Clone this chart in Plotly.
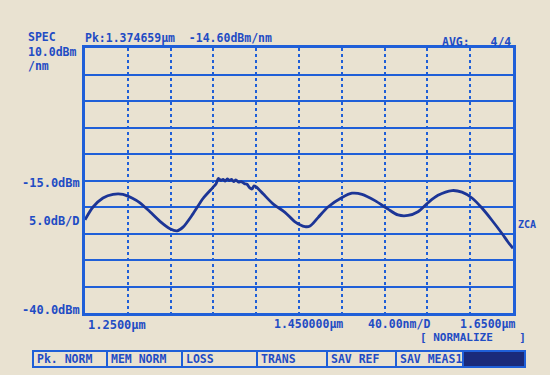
import plotly.graph_objects as go

# ---- data ----
wavelength_um = [1.2500, 1.2575, 1.2668, 1.2762, 1.2855, 1.2939, 1.3014, 1.3107, 1.3201, 1.3294,
                 1.3360, 1.3416, 1.3509, 1.3603, 1.3696, 1.3725, 1.3747, 1.3770, 1.3790, 1.3810,
                 1.3830, 1.3850, 1.3870, 1.3890, 1.3910, 1.3935, 1.3960, 1.3990, 1.4014, 1.4040,
                 1.4061, 1.4080, 1.4100, 1.4164, 1.4257, 1.4369, 1.4463, 1.4556, 1.4603, 1.4678,
                 1.4771, 1.4902, 1.4995, 1.5089, 1.5210, 1.5332, 1.5425, 1.5519, 1.5612, 1.5706,
                 1.5799, 1.5930, 1.6023, 1.6117, 1.6210, 1.6303, 1.6397, 1.6453, 1.6500]
power_dbm = [-22.4, -20.0, -18.3, -17.6, -17.6, -18.3, -19.2, -20.9, -22.7, -24.1,
             -24.5, -23.8, -21.3, -18.4, -16.3, -15.6, -14.6, -15.0, -14.8, -15.1,
             -14.7, -15.0, -14.8, -15.2, -14.9, -15.3, -15.2, -15.6, -15.7, -16.4,
             -16.6, -16.0, -16.2, -17.5, -19.4, -21.0, -22.8, -23.7, -23.6, -22.0,
             -20.0, -18.2, -17.4, -17.6, -18.8, -20.4, -21.5, -21.6, -20.9, -19.2,
             -17.8, -16.9, -17.2, -18.3, -20.2, -22.5, -25.0, -26.6, -27.8]

x_range = [1.25, 1.65]
x_step = 0.04
y_range = [-40.0, 10.0]
y_step = 5.0

header_left = "SPEC"
peak_text = "Pk:1.374659\u00b5m  -14.60dBm/nm"
avg_text = "AVG:   4/4"
ref_level = "10.0dBm"
ref_unit = "/nm"
mid_level = "-15.0dBm"
scale_text = "5.0dB/D"
bottom_level = "-40.0dBm"
x_tick_texts = ["1.2500\u00b5m", "1.450000\u00b5m", "40.00nm/D", "1.6500\u00b5m"]
mode_text = "[ NORMALIZE    ]"
side_text = "ZCA"
buttons = ["Pk. NORM", "MEM NORM", "LOSS", "TRANS", "SAV REF", "SAV MEAS1", ""]

# ---- styling ----
BG = "#e9e2d1"
GRID = "#1f5fd8"
TRACE = "#1c3596"
TXT = "#1f4cc4"
FONT = "DejaVu Sans Mono"

W, H = 550, 375
L, R, T, B = 85, 513, 48, 313


def px(x):
    return (x - L) / (R - L)


def py(y):
    return (B - y) / (B - T)


fig = go.Figure()
fig.add_trace(go.Scatter(x=wavelength_um, y=power_dbm, mode="lines",
                         line=dict(color=TRACE, width=2.8, shape="spline", smoothing=0.8),
                         hoverinfo="skip", showlegend=False))

fig.update_layout(
    width=W, height=H,
    margin=dict(l=L, r=W - R, t=T, b=H - B),
    paper_bgcolor=BG, plot_bgcolor=BG,
    xaxis=dict(range=x_range, dtick=x_step, tick0=x_range[0], showticklabels=False,
               showgrid=True, gridcolor=GRID, gridwidth=2, griddash="dot",
               zeroline=False, showline=True, linecolor=GRID, linewidth=2.5, mirror=True,
               ticks=""),
    yaxis=dict(range=y_range, dtick=y_step, tick0=y_range[0], showticklabels=False,
               showgrid=True, gridcolor=GRID, gridwidth=2,
               zeroline=False, showline=True, linecolor=GRID, linewidth=2.5, mirror=True,
               ticks=""),
)

ann = []


def text(x, y, s, anchor="left", size=11.5, color=TXT):
    ann.append(dict(x=px(x), y=py(y), xref="paper", yref="paper", text="<b>" + s + "</b>",
                    showarrow=False, xanchor=anchor, yanchor="middle",
                    font=dict(family=FONT, size=size, color=color)))


text(26, 37, header_left, size=11.5)
text(83, 38, peak_text)
text(513, 42, avg_text, anchor="right")
text(26, 52, ref_level, size=11.5)
text(26, 66, ref_unit, size=11.5)
text(82, 183, mid_level, anchor="right", size=12)
text(82, 221, scale_text, anchor="right", size=12)
text(516, 224, side_text, size=10)
text(82, 310, bottom_level, anchor="right", size=12)
text(86, 325, x_tick_texts[0], size=12)
text(272, 324, x_tick_texts[1])
text(366, 324, x_tick_texts[2])
text(458, 324, x_tick_texts[3])
text(418, 337, mode_text, size=11)

# button bar
edges = [33, 107, 182, 257, 327, 396, 463, 525]
shapes = []
for i, lab in enumerate(buttons):
    x0, x1 = edges[i], edges[i + 1]
    last = i == len(buttons) - 1
    shapes.append(dict(type="rect", xref="paper", yref="paper",
                       x0=px(x0), x1=px(x1), y0=py(367), y1=py(351),
                       line=dict(color=GRID, width=2),
                       fillcolor="#1a2a7a" if last else BG))
    if lab:
        text(x0 + 2, 359, lab, size=11.5)

fig.update_layout(annotations=ann, shapes=shapes)
fig.write_html("out.html")
